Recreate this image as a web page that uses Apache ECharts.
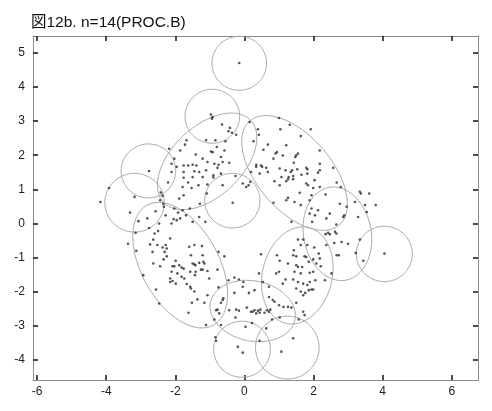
<!DOCTYPE html>
<html><head><meta charset="utf-8">
<script src="https://cdn.jsdelivr.net/npm/echarts@6/dist/echarts.min.js"></script>
<style>html,body{margin:0;padding:0;background:#fff}#c{width:492px;height:411px}</style>
</head><body><div id="c"></div>
<script>
const titleText = '図12b. n=14(PROC.B)';
const xTicks = [-6, -4, -2, 0, 2, 4, 6];
const yTicks = [-4, -3, -2, -1, 0, 1, 2, 3, 4, 5];
const xRange = [-6.12, 6.76];
const yRange = [-4.58, 5.49];

// 14 components: centre, semi-axes, rotation (deg)
const ellipseCx    = [-0.15, -0.93, -1.08, 1.45, -2.78, -3.18, -0.35, 2.69, 4.05, -1.86, 1.53, 0.24, -0.07, 1.24];
const ellipseCy    = [ 4.69,  3.14,  1.82, 1.48,  1.54,  0.61,  0.67, -0.30, -0.89, -1.22, -1.52, -2.56, -3.68, -3.63];
const ellipseA     = [ 0.79,  0.79,  1.74, 2.00,  0.79,  0.86,  0.80, 1.38, 0.81, 2.00, 1.44, 1.25, 0.82, 0.92];
const ellipseB     = [ 0.79,  0.79,  1.02, 1.08,  0.79,  0.86,  0.80, 0.98, 0.81, 1.12, 1.01, 0.88, 0.82, 0.92];
const ellipseAngle = [ 0,     0,     44,  -50,    0,     0,     0,   -80,   0,   -61.5, 77,  -12,    0,    0];

const points = [
[-0.15,4.70],
[-2.18,2.19],[-2.03,1.90],[-1.86,2.14],[-1.72,2.31],[-1.68,2.44],[-2.11,1.75],[-1.96,1.66],[-1.76,1.70],[-1.63,1.70],[-2.11,1.51],[-1.76,1.51],[-2.76,1.54],[-2.21,1.20],[-1.76,1.34],[-1.79,1.07],[-1.63,1.20],[-1.53,1.04],[-1.76,0.83],[-1.89,0.73],[-3.92,1.04],[-4.17,0.63],[-3.18,0.78],[-3.31,0.32],[-2.42,0.91],[-2.37,0.81],[-2.44,0.68],[-2.35,0.58],[-2.33,0.49],[-2.57,0.36],[-2.28,0.24],[-2.03,0.44],[-1.92,0.32],[-1.79,0.39],[-1.69,0.24],[-1.86,0.15],[-1.58,0.44],[-2.05,0.13],[-2.81,0.15],[-3.07,0.07],[-2.76,-0.13],[-2.47,0.00],[-2.11,0.00],[-1.96,0.10],
[-0.97,3.19],[-0.92,3.12],[-0.94,3.07],[-0.65,2.90],[-0.42,2.80],[-0.46,2.70],[-0.36,2.66],[-0.24,2.60],[0.15,2.97],[0.39,2.76],[1.00,3.09],[1.04,2.76],[-1.11,2.44],[-0.84,2.44],[-0.55,2.41],[-0.80,2.24],[-0.58,2.14],[-0.92,2.09],[-0.97,2.11],[-0.68,1.95],[-1.41,2.02],[-1.21,1.90],[-1.50,1.72],[-1.39,1.70],[-1.07,1.80],[-0.87,1.75],[-0.75,1.72],[-0.63,1.80],[-0.44,1.78],[-1.45,1.53],[-1.31,1.51],[-1.11,1.56],[-0.78,1.63],[-0.90,1.41],[-0.90,1.35],[-0.68,1.46],[-1.50,1.36],[-1.21,1.36],[-1.33,1.12],[-1.07,1.14],[-0.63,1.12],[-0.26,1.39],[0.26,2.41],[0.42,2.60],[0.55,2.16],[0.68,2.31],[0.90,2.05],[0.94,2.09],[0.84,1.90],[1.21,2.29],[1.11,1.99],[0.34,1.72],[0.34,1.66],[0.48,1.70],[0.51,1.66],[0.63,1.63],[0.19,1.51],[0.44,1.46],[0.68,1.51],[1.02,1.61],[1.07,1.36],[1.19,1.56],[0.87,1.24],[1.02,1.12],[1.21,1.24],[-0.05,1.17],[0.12,1.12],[0.05,1.07],[0.17,1.22],[-0.34,0.61],[-1.09,0.88],[-1.29,0.58],[-1.50,0.05],[-1.31,0.19],[-1.13,0.05],[0.84,0.61],
[1.31,2.89],[1.92,2.76],[1.63,2.56],[1.50,2.00],[1.47,1.95],[1.55,2.05],[1.43,1.78],[2.18,2.14],[1.34,1.51],[1.38,1.56],[1.53,1.59],[1.79,1.63],[1.82,1.59],[1.65,1.43],[1.28,1.36],[1.26,1.30],[1.41,1.39],[1.41,1.30],[1.82,1.46],[2.18,1.75],[2.18,1.56],[2.13,1.49],[2.57,1.63],[2.03,1.27],[1.79,1.17],[1.84,1.12],[2.18,1.07],[1.99,1.04],[2.67,1.20],[2.79,1.07],[1.60,0.90],[1.94,0.83],[2.35,0.85],[1.26,0.75],[1.21,0.68],[1.45,0.63],[1.63,0.54],[1.89,0.68],[1.94,0.44],[2.13,0.39],[1.89,0.29],[2.04,0.24],[2.47,0.29],[2.76,0.58],[2.96,0.49],[2.86,0.19],[2.89,0.24],[3.20,0.63],[3.34,0.93],[3.37,0.88],[3.61,0.88],[3.49,0.54],[3.80,0.54],[3.54,0.34],[3.29,0.19],[2.37,0.15],[1.96,0.05],[2.66,-0.03],[1.36,0.05],
[-3.15,-0.27],[-2.60,-0.29],[-2.50,-0.22],[-2.64,-0.47],[-3.37,-0.59],[-2.73,-0.61],[-2.52,-0.63],[-2.37,-0.70],[-2.28,-0.63],[-2.25,-0.73],[-2.15,-0.44],[-2.66,-0.83],[-2.31,-0.83],[-1.60,-0.68],[-3.13,-0.80],[-2.25,-0.96],[-2.34,-1.05],[-1.99,-1.09],[-2.64,-1.17],[-2.44,-1.25],[-2.08,-1.25],[-2.03,-1.25],[-1.89,-1.22],[-1.82,-1.29],[-1.76,-1.32],[-2.11,-1.41],[-1.94,-1.46],[-1.57,-1.41],[-2.15,-1.61],[-2.15,-1.71],[-2.08,-1.68],[-1.99,-1.76],[-1.82,-1.56],[-1.74,-1.61],[-1.67,-1.77],[-1.57,-1.85],[-2.93,-1.51],[-2.56,-1.93],[-2.47,-2.34],[-1.62,-2.61],
[-1.45,-0.63],[-1.23,-0.66],[-1.55,-0.93],[-1.21,-0.93],[-1.50,-1.17],[-1.45,-1.19],[-1.42,-1.22],[-1.31,-1.15],[-1.19,-1.12],[-1.16,-1.17],[-1.21,-1.35],[-1.26,-1.35],[-1.07,-1.39],[-0.75,-0.83],[-0.58,-0.96],[-0.78,-1.35],[-1.41,-1.41],[-1.02,-1.61],[-1.43,-1.51],[-1.55,-1.90],[-1.45,-1.99],[-1.36,-2.22],[-1.16,-2.32],[-1.07,-2.10],[-1.52,-2.32],[-0.75,-1.87],[-0.46,-1.66],[-0.29,-1.58],[-0.16,-1.64],[-0.03,-1.71],[-0.05,-1.85],[-0.29,-2.03],[0.13,-2.03],[0.29,-1.95],[0.48,-0.90],[0.42,-1.46],[0.53,-1.71],[0.71,-1.85],[0.94,-0.93],[1.02,-1.09],[0.92,-1.46],[1.00,-1.41],[1.19,-1.64],[1.11,-1.76],[0.71,-2.15],[0.82,-2.24],[0.87,-2.29],[1.00,-2.39],[1.13,-2.44],[-0.63,-2.24],[-0.61,-2.19],[-0.68,-2.32],[-0.78,-2.52],[-0.73,-2.63],[-0.82,-2.54],[-0.87,-2.81],[-1.11,-2.97],[-0.68,-2.97],[-0.44,-2.54],[-0.24,-2.52],[-0.16,-2.55],[0.07,-2.46],[0.19,-2.58],[0.24,-2.58],[0.29,-2.54],[0.34,-2.63],[0.39,-2.55],[0.46,-2.52],[0.44,-2.61],[0.58,-2.61],[0.65,-2.54],[0.71,-2.58],[0.75,-2.52],[-0.26,-2.75],[0.03,-3.02],[0.22,-2.91],[0.63,-3.07],[0.80,-2.81],[1.02,-2.75],[0.44,-3.43],[-0.84,-3.33],[-0.82,-3.43],[-0.19,-3.61],[-0.05,-3.78],[1.07,-3.75],
[2.35,-0.31],[2.42,-0.27],[2.47,-0.31],[2.62,-0.24],[2.66,-0.29],[1.55,-0.47],[1.70,-0.47],[1.63,-0.63],[1.82,-0.63],[2.02,-0.70],[1.43,-0.78],[1.41,-0.93],[1.50,-0.96],[1.74,-0.96],[1.79,-0.98],[1.99,-1.05],[2.15,-0.88],[2.18,-1.02],[1.26,-1.17],[1.50,-1.22],[1.55,-1.27],[1.67,-1.27],[1.86,-1.12],[2.08,-1.17],[2.21,-1.25],[1.45,-1.41],[1.63,-1.46],[1.89,-1.44],[1.99,-1.41],[1.41,-1.64],[1.55,-1.71],[1.70,-1.76],[1.89,-1.71],[2.05,-1.66],[2.33,-1.66],[2.52,-1.46],[1.50,-1.90],[1.63,-1.99],[1.70,-2.10],[1.76,-2.03],[1.86,-1.95],[1.94,-1.93],[1.99,-1.93],[1.82,-1.80],[1.50,-2.32],[1.26,-2.44],[1.36,-2.46],[1.70,-2.58],[1.74,-2.68],[1.57,-2.81],[1.41,-3.36],[2.37,-0.63],[2.60,-0.57],[2.81,-0.54],[3.00,-0.59],[3.34,-0.47],[2.67,-0.93],[2.73,-0.93],[3.22,-0.86],[3.44,-1.09],[4.05,-0.88]
];

const FONT = '"Liberation Sans", Arial, "Noto Sans CJK JP", sans-serif';
const chart = echarts.init(document.getElementById('c'), null, {renderer: 'canvas'});

function xAxisDef(pos, labels) {
  return {
    type: 'value', position: pos, min: xRange[0], max: xRange[1],
    axisLine: {show: true, onZero: false, lineStyle: {color: '#8a8a8a', width: 1}},
    axisTick: {show: true, inside: true, length: 5, customValues: xTicks, lineStyle: {color: '#111', width: 1.5}},
    axisLabel: {show: labels, customValues: xTicks, color: '#222', fontSize: 12, margin: 6, fontFamily: FONT},
    splitLine: {show: false}
  };
}
function yAxisDef(pos, labels) {
  return {
    type: 'value', position: pos, min: yRange[0], max: yRange[1],
    axisLine: {show: true, onZero: false, lineStyle: {color: '#8a8a8a', width: 1}},
    axisTick: {show: true, inside: true, length: 5, customValues: yTicks, lineStyle: {color: '#111', width: 1.5}},
    axisLabel: {show: labels, customValues: yTicks, color: '#222', fontSize: 12, margin: 8, fontFamily: FONT},
    splitLine: {show: false}
  };
}

const ellipseData = ellipseCx.map((cx, i) => [cx, ellipseCy[i], i]);

chart.setOption({
  animation: false,
  backgroundColor: '#fff',
  title: {text: titleText, left: 26, top: 10, textStyle: {fontSize: 15.5, fontWeight: 'normal', color: '#111', fontFamily: FONT}},
  grid: {left: 33, right: 14, top: 36, bottom: 31, containLabel: false},
  xAxis: [xAxisDef('bottom', true), xAxisDef('top', false)],
  yAxis: [yAxisDef('left', true), yAxisDef('right', false)],
  series: [
    {
      type: 'custom',
      coordinateSystem: 'cartesian2d',
      xAxisIndex: 0, yAxisIndex: 0,
      data: ellipseData,
      encode: {x: 0, y: 1},
      silent: true,
      z: 1,
      renderItem: function (params, api) {
        const i = api.value(2);
        const cx = api.value(0), cy = api.value(1);
        const a = ellipseA[i], b = ellipseB[i];
        const th = ellipseAngle[i] * Math.PI / 180;
        const pts = [];
        const N = 120;
        for (let k = 0; k <= N; k++) {
          const t = 2 * Math.PI * k / N;
          const ex = a * Math.cos(t), ey = b * Math.sin(t);
          pts.push(api.coord([cx + ex * Math.cos(th) - ey * Math.sin(th), cy + ex * Math.sin(th) + ey * Math.cos(th)]));
        }
        return {type: 'polyline', shape: {points: pts}, style: {stroke: '#a9a9a9', lineWidth: 1, fill: null}};
      }
    },
    {
      type: 'scatter',
      xAxisIndex: 0, yAxisIndex: 0,
      data: points,
      symbol: 'circle',
      symbolSize: 2.6,
      itemStyle: {color: '#2a2a2a'},
      silent: true,
      z: 2
    }
  ]
});
</script></body></html>
